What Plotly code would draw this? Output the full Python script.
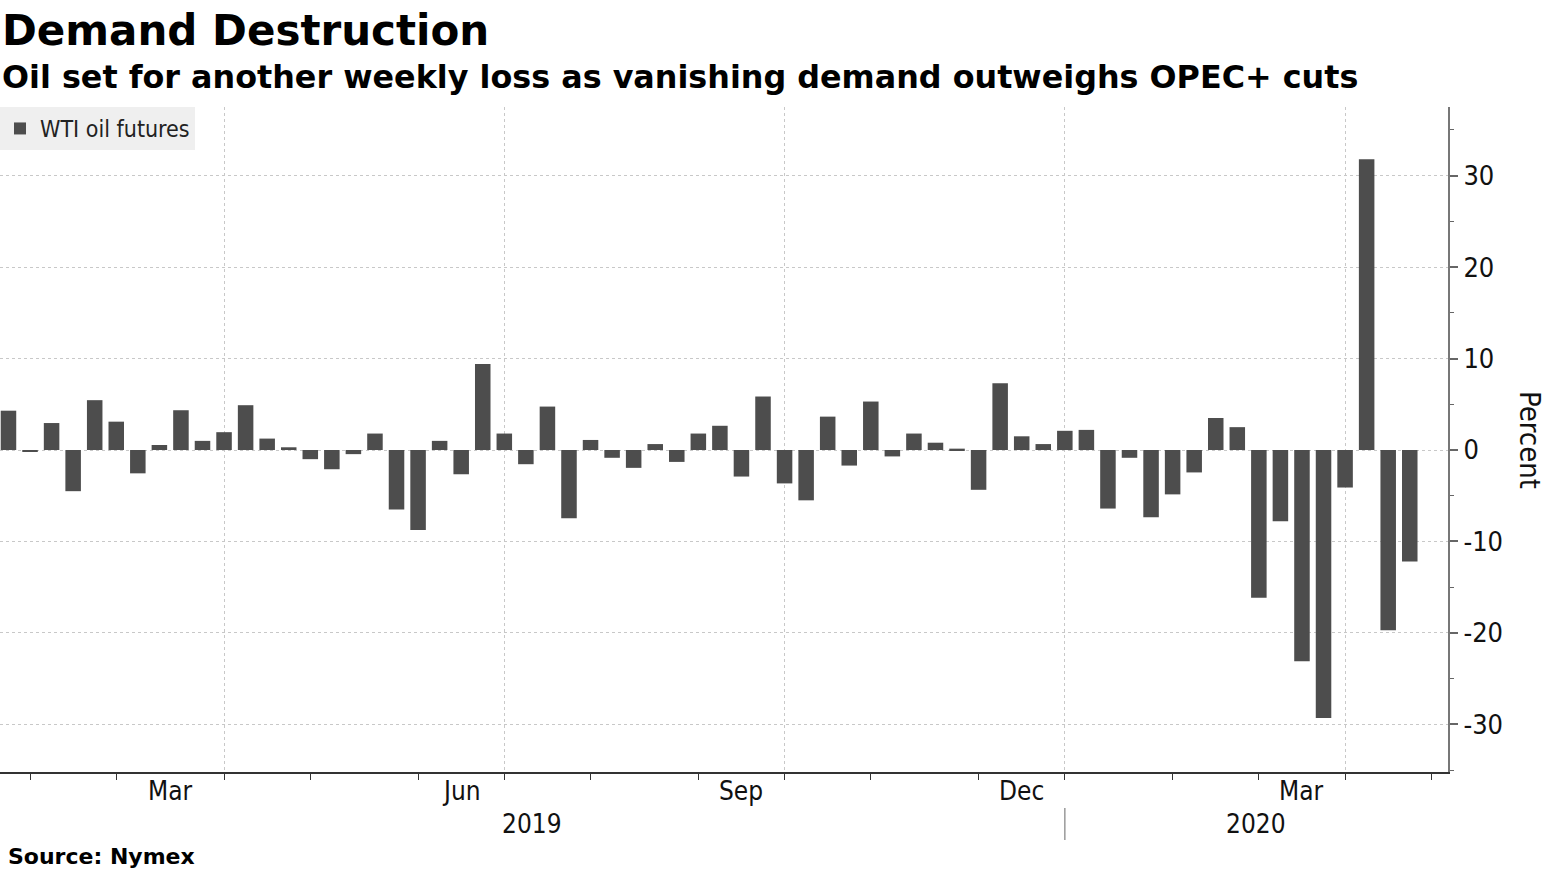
import pandas as pd
import plotly.graph_objects as go

# ---- data -------------------------------------------------------------
week_start = pd.date_range("2019-01-21", periods=66, freq="7D")  # bar for each trading week
wti_weekly_change = [
    4.3, -0.2, 2.95, -4.5, 5.45, 3.1, -2.55, 0.55, 4.35, 1.0, 1.95, 4.9, 1.25, 0.3, -1.0, -2.1, -0.45, 1.8,
    -6.5, -8.75, 1.0, -2.65, 9.4, 1.8, -1.55, 4.75, -7.45, 1.1, -0.85, -1.95, 0.65, -1.3, 1.8, 2.65, -2.9, 5.85,
    -3.65, -5.5, 3.65, -1.7, 5.3, -0.7, 1.8, 0.8, 0.15, -4.35, 7.3, 1.5, 0.65, 2.1, 2.2, -6.4, -0.85, -7.35,
    -4.85, -2.45, 3.5, 2.5, -16.15, -7.8, -23.1, -29.3, -4.1, 31.8, -19.7, -12.2,
]
series_name = "WTI oil futures"

month_tick_dates = ["2019-01-28", "2019-02-25", "2019-04-01", "2019-04-29", "2019-06-03", "2019-07-01",
                    "2019-07-29", "2019-09-02", "2019-09-30", "2019-10-28", "2019-12-02", "2019-12-30",
                    "2020-02-03", "2020-03-02", "2020-03-30", "2020-04-27"]
quarter_grid_dates = ["2019-04-01", "2019-07-01", "2019-09-30", "2019-12-30", "2020-03-30"]
month_labels = ["Mar", "Jun", "Sep", "Dec", "Mar"]
month_label_spans = [("2019-02-25", "2019-04-01"), ("2019-06-03", "2019-07-01"), ("2019-09-02", "2019-09-30"),
                     ("2019-12-02", "2019-12-30"), ("2020-03-02", "2020-03-30")]
year_labels = ["2019", "2020"]
year_boundary = "2019-12-30"
y_tick_vals = [-30, -20, -10, 0, 10, 20, 30]
y_tick_text = ["-30", "-20", "-10", "0", "10", "20", "30"]
x_range = ["2019-01-18 06:00", "2020-05-02 10:00"]
y_range = [-35.2, 37.5]

title = "Demand Destruction"
subtitle = "Oil set for another weekly loss as vanishing demand outweighs OPEC+ cuts"
source = "Source: Nymex"

# ---- figure -----------------------------------------------------------
W, H = 1550, 871
ML, MR, MT, MB = 0, 102, 107, 99
PW, PH = W - ML - MR, H - MT - MB

def py(pix):  # pixel row -> paper y
    return (H - MB - pix) / PH

def px(pix):  # pixel column -> paper x
    return (pix - ML) / PW

tick_font = "DejaVu Sans Condensed, Liberation Sans Narrow, DejaVu Sans"
bold_font = "DejaVu Sans, Verdana, sans-serif"

fig = go.Figure()
fig.add_trace(go.Bar(
    x=week_start, y=wti_weekly_change, name=series_name,
    marker=dict(color="#4d4d4d", line=dict(width=0)),
    showlegend=True,
))

fig.update_layout(
    width=W, height=H,
    margin=dict(l=ML, r=MR, t=MT, b=MB, pad=0),
    plot_bgcolor="white", paper_bgcolor="white",
    bargap=0.28,
    showlegend=True,
    legend=dict(x=0, y=1, xanchor="left", yanchor="top", bgcolor="#efefef",
                font=dict(family=tick_font, size=23, color="#222"),
                itemwidth=30, tracegroupgap=0, borderwidth=0),
    xaxis=dict(
        type="date", range=x_range,
        tickvals=quarter_grid_dates, ticktext=[""] * len(quarter_grid_dates),
        ticks="outside", ticklen=6, tickcolor="#333", tickwidth=1,
        showgrid=True, gridcolor="#c8c8c8", griddash="dot", gridwidth=1,
        showline=True, linecolor="#333", linewidth=2,
        zeroline=False,
        minor=dict(tickvals=month_tick_dates, ticks="outside", ticklen=6, tickcolor="#333",
                   tickwidth=1, showgrid=False),
    ),
    yaxis=dict(
        side="right", range=y_range,
        tickvals=y_tick_vals, ticktext=y_tick_text,
        ticks="outside", ticklen=8, tickcolor="#666", tickwidth=2,
        tickfont=dict(family=tick_font, size=27, color="#111"),
        showgrid=True, gridcolor="#c8c8c8", griddash="dot", gridwidth=1,
        showline=True, linecolor="#777", linewidth=2,
        zeroline=False,
        minor=dict(dtick=5, tick0=5, ticks="outside", ticklen=4, tickcolor="#666", tickwidth=1, showgrid=False),
    ),
)

ann = []
ann.append(dict(text=f"<b>{title}</b>", x=px(0), y=py(31), xref="paper", yref="paper",
                xanchor="left", yanchor="middle", showarrow=False,
                font=dict(family=bold_font, size=42, color="#000")))
ann.append(dict(text=f"<b>{subtitle}</b>", x=px(0), y=py(77), xref="paper", yref="paper",
                xanchor="left", yanchor="middle", showarrow=False,
                font=dict(family=bold_font, size=31.8, color="#000")))
ann.append(dict(text=f"<b>{source}</b>", x=px(6), y=py(856), xref="paper", yref="paper",
                xanchor="left", yanchor="middle", showarrow=False,
                font=dict(family=bold_font, size=22, color="#000")))
ann.append(dict(text="Percent", x=px(1530), y=py(440), xref="paper", yref="paper",
                xanchor="center", yanchor="middle", showarrow=False, textangle=90,
                font=dict(family=tick_font, size=29, color="#111")))

for lab, (a, b) in zip(month_labels, month_label_spans):
    mid = pd.Timestamp(a) + (pd.Timestamp(b) - pd.Timestamp(a)) / 2
    ann.append(dict(text=lab, x=mid, y=py(791), xref="x", yref="paper",
                    xanchor="center", yanchor="middle", showarrow=False,
                    font=dict(family=tick_font, size=26, color="#111")))

xr0, xr1 = pd.Timestamp(x_range[0]), pd.Timestamp(x_range[1])
yb = pd.Timestamp(year_boundary)
for lab, (a, b) in zip(year_labels, [(xr0, yb), (yb, xr1)]):
    mid = a + (b - a) / 2
    ann.append(dict(text=lab, x=mid, y=py(824), xref="x", yref="paper",
                    xanchor="center", yanchor="middle", showarrow=False,
                    font=dict(family=tick_font, size=26, color="#111")))

fig.update_layout(annotations=ann)
fig.add_shape(type="line", xref="x", yref="paper", x0=year_boundary, x1=year_boundary,
              y0=py(808), y1=py(840), line=dict(color="#999", width=1.5))

fig.write_html("out.html", config={"displayModeBar": False},
               post_script="document.body.style.margin='0';")
